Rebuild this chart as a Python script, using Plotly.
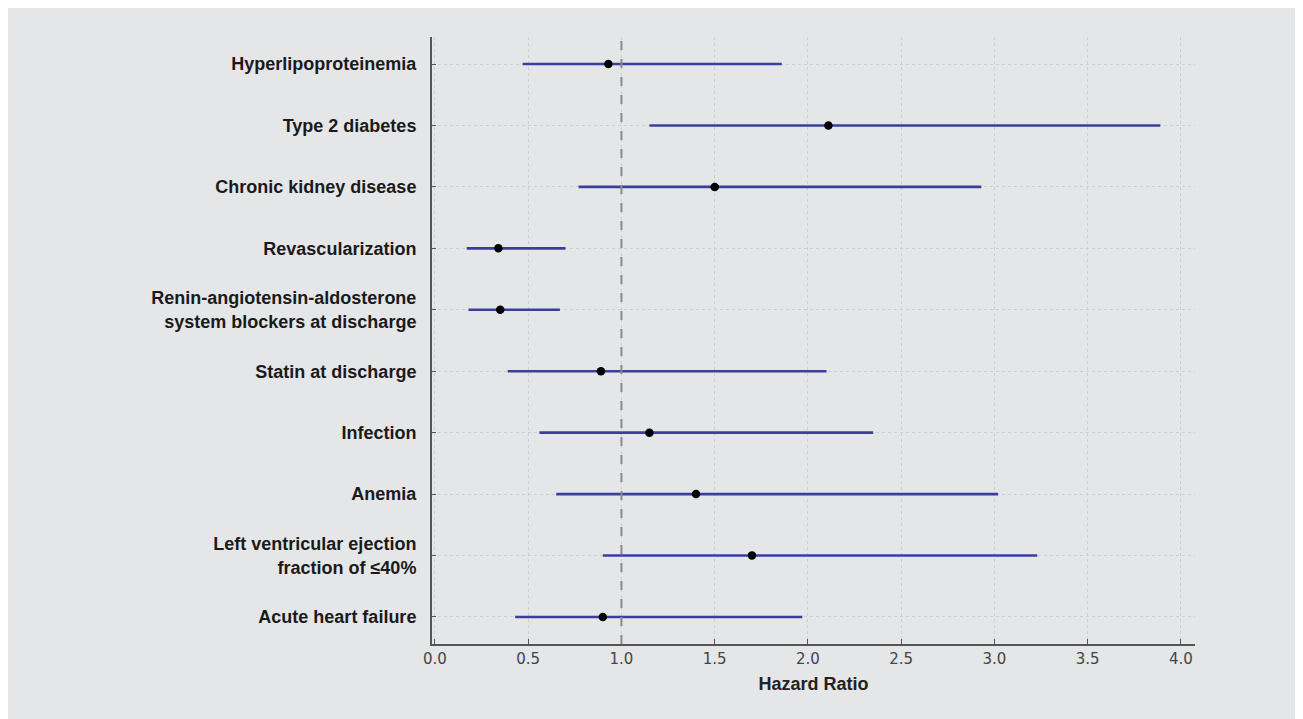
import plotly.graph_objects as go

categories = [
    "Hyperlipoproteinemia",
    "Type 2 diabetes",
    "Chronic kidney disease",
    "Revascularization",
    "Renin-angiotensin-aldosterone<br>system blockers at discharge",
    "Statin at discharge",
    "Infection",
    "Anemia",
    "Left ventricular ejection<br>fraction of ≤40%",
    "Acute heart failure",
]
hr = [0.93, 2.11, 1.50, 0.34, 0.35, 0.89, 1.15, 1.40, 1.70, 0.90]
ci_low = [0.47, 1.15, 0.77, 0.17, 0.18, 0.39, 0.56, 0.65, 0.90, 0.43]
ci_high = [1.86, 3.89, 2.93, 0.70, 0.67, 2.10, 2.35, 3.02, 3.23, 1.97]
x_ticks = [0.0, 0.5, 1.0, 1.5, 2.0, 2.5, 3.0, 3.5, 4.0]

BG = "#e5e6e8"

fig = go.Figure()

for cat, lo, hi in zip(categories, ci_low, ci_high):
    fig.add_trace(go.Scatter(
        x=[lo, hi], y=[cat, cat], mode="lines",
        line=dict(color="#3a3f9e", width=2.6),
        showlegend=False, hoverinfo="skip",
    ))

fig.add_trace(go.Scatter(
    x=hr, y=categories, mode="markers",
    marker=dict(color="black", size=8.5),
    showlegend=False,
))

fig.add_vline(x=1.0, line=dict(color="#8a8a8a", width=2, dash="dash"))

fig.update_layout(
    width=1295, height=711,
    margin=dict(l=424, r=108, t=29, b=75),
    paper_bgcolor=BG, plot_bgcolor=BG,
    font=dict(family="Liberation Sans, Arial, sans-serif", color="#222"),
    xaxis=dict(
        range=[-0.016, 4.076],
        tickvals=x_ticks,
        ticktext=[f"{v:.1f}" for v in x_ticks],
        tickfont=dict(family="DejaVu Sans", size=15, color="#444"),
        ticks="inside", ticklen=5, tickcolor="#555", tickwidth=1.2,
        showline=True, linecolor="#555", linewidth=2,
        showgrid=True, gridcolor="#cdced1", griddash="dot", gridwidth=1,
        zeroline=False,
        title=dict(text="<b>Hazard Ratio</b>", font=dict(size=18, color="#222"), standoff=10),
    ),
    yaxis=dict(
        type="category",
        categoryorder="array", categoryarray=categories,
        range=[9.44, -0.44],
        tickfont=dict(family="Liberation Sans, Arial", size=18, color="#1a1a1a"),
        tickprefix="<b>", ticksuffix="</b>",
        ticks="inside", ticklen=4, tickcolor="#555", tickwidth=1.2,
        showline=True, linecolor="#555", linewidth=2,
        showgrid=True, gridcolor="#cdced1", griddash="dot", gridwidth=1,
        zeroline=False,
        ticklabelstandoff=10,
    ),
)

fig.write_html("out.html")
